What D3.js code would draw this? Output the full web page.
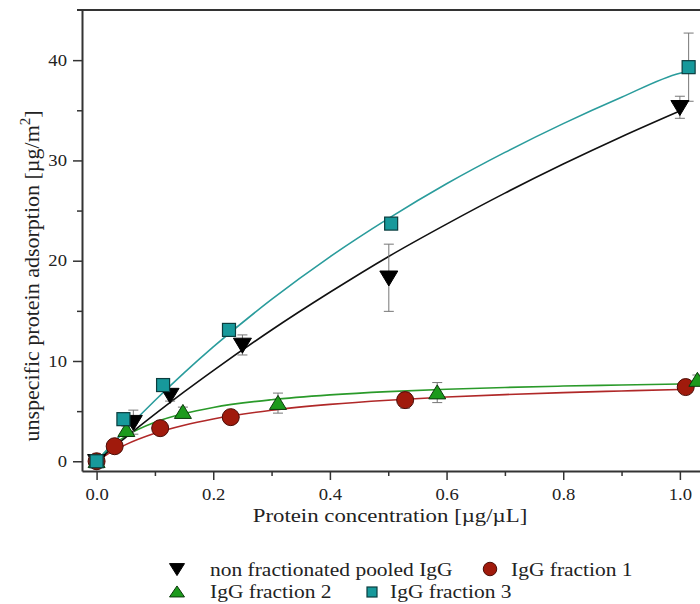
<!DOCTYPE html>
<html>
<head>
<meta charset="utf-8">
<script src="https://cdn.jsdelivr.net/npm/d3@7"></script>
<style>
  body { margin: 0; background: #fff; }
  svg { display: block; }
  svg text { font-family: "Liberation Serif", "Times New Roman", Times, "DejaVu Serif", serif !important; fill: #222; }
</style>
</head>
<body>
<svg id="chart" width="700" height="604"></svg>
<script>
// Measured adsorption (x: protein concentration µg/µL, y: µg/m², e: error)
const pooledX = [0, 0.063, 0.126, 0.25, 0.501, 1.0];
const pooledY = [0, 3.9, 6.6, 11.6, 18.3, 35.3];
const pooledE = [0, 1.2, 0.6, 1.0, 3.35, 1.1];

const frac1X = [0, 0.031, 0.109, 0.23, 0.529, 1.01];
const frac1Y = [0, 1.5, 3.3, 4.4, 6.1, 7.4];
const frac1E = [0, 0.3, 0.3, 0.3, 0.8, 0.4];

const frac2X = [0, 0.051, 0.148, 0.311, 0.584, 1.03];
const frac2Y = [0, 3.1, 4.9, 5.8, 6.85, 8.1];
const frac2E = [0, 0.4, 0.5, 1.0, 1.0, 0.5];

const frac3X = [0, 0.046, 0.114, 0.227, 0.505, 1.015];
const frac3Y = [0, 4.2, 7.6, 13.1, 23.7, 39.3];
const frac3E = [0, 0.4, 0.4, 0.5, 0.4, 3.4];

// Fitted adsorption curves
const fitX = [0, 0.025, 0.05, 0.1, 0.15, 0.2, 0.3, 0.4, 0.5, 0.6, 0.7, 0.8, 0.9, 1.0];
const fitPooled = [0, 1.21, 2.39, 4.69, 6.91, 9.04, 13.09, 16.85, 20.4, 23.65, 26.74, 29.64, 32.37, 34.94];
const fitFrac1 = [0, 0.92, 1.66, 2.79, 3.6, 4.22, 5.09, 5.67, 6.09, 6.41, 6.65, 6.85, 7.01, 7.15];
const fitFrac2 = [0, 1.47, 2.51, 3.89, 4.76, 5.37, 6.14, 6.62, 6.95, 7.18, 7.36, 7.5, 7.61, 7.70];
const fitFrac3 = [0, 1.59, 3.13, 6.06, 8.81, 11.4, 16.14, 20.39, 24.2, 27.67, 30.8, 33.67, 36.3, 38.7];
// curve end points beyond x = 1.0
const fitEndX = [1.0, 1.01, 1.06, 1.015];
const fitEndY = [34.94, 7.16, 7.74, 38.9];

const xTicks = [0, 0.2, 0.4, 0.6, 0.8, 1.0];
const xMinor = [0.1, 0.3, 0.5, 0.7, 0.9];
const yTicks = [0, 10, 20, 30, 40];
const yMinor = [5, 15, 25, 35];

const seriesNames = ["non fractionated pooled IgG", "IgG fraction 1", "IgG fraction 2", "IgG fraction 3"];

const serif = "'Liberation Serif', 'Times New Roman', Times, serif";
const stretch = 1.13; // horizontal glyph stretch of the horizontal texts
const svg = d3.select("#chart");
const plotL = 82, plotT = 10, plotB = 471;

const x = d3.scaleLinear().domain([-0.025, 1.05]).range([plotL, plotL + (1.05 + 0.025) * 583.3]);
const y = d3.scaleLinear().domain([-0.97, 45]).range([plotB, plotT]);

const axisColor = "#333";

// frame top line
svg.append("line").attr("x1", plotL - 5).attr("x2", 700).attr("y1", plotT).attr("y2", plotT)
  .attr("stroke", axisColor).attr("stroke-width", 2);

// y axis
svg.append("g").attr("class", "yaxis").attr("transform", `translate(${plotL},0)`)
  .call(d3.axisLeft(y).tickValues(yTicks).tickSize(9).tickSizeOuter(0).tickPadding(4.3).tickFormat(d3.format("d")));
svg.append("g").attr("transform", `translate(${plotL},0)`)
  .call(d3.axisLeft(y).tickValues(yMinor).tickSize(5).tickSizeOuter(0).tickFormat(""))
  .select(".domain").remove();

// x axis
svg.append("g").attr("class", "xaxis").attr("transform", `translate(0,${plotB})`)
  .call(d3.axisBottom(x).tickValues(xTicks).tickSize(9).tickSizeOuter(0).tickPadding(8).tickFormat(d3.format(".1f")));
svg.append("g").attr("transform", `translate(0,${plotB})`)
  .call(d3.axisBottom(x).tickValues(xMinor).tickSize(5).tickSizeOuter(0).tickFormat(""))
  .select(".domain").remove();

svg.selectAll("g").attr("font-family", serif);
svg.selectAll(".tick text").style("font-size", "16.5px").style("font-family", serif)
  .attr("fill", "#222").attr("transform", `scale(${stretch},1)`);
svg.selectAll(".domain").attr("stroke", axisColor).attr("stroke-width", 2);
svg.selectAll(".tick line").attr("stroke", axisColor).attr("stroke-width", 1.5);

// axis titles
svg.append("text").attr("transform", `translate(390,522) scale(${stretch + 0.04},1)`).attr("text-anchor", "middle")
  .style("font-family", serif).style("font-size", "19.5px").text("Protein concentration [µg/µL]");
const yt = svg.append("text").attr("transform", "translate(39,276) rotate(-90)")
  .attr("text-anchor", "middle").style("font-family", serif).style("font-size", "22px");
yt.append("tspan").text("unspecific protein adsorption [µg/m");
yt.append("tspan").attr("dy", -9).style("font-size", "15px").text("2");
yt.append("tspan").attr("dy", 9).text("]");

// fitted curves
const line = d3.line().x(d => x(d[0])).y(d => y(d[1])).curve(d3.curveMonotoneX);
const fits = [
  { ys: fitFrac1, color: "#b02828", end: 1 },
  { ys: fitFrac2, color: "#2a9a2a", end: 2 },
  { ys: fitPooled, color: "#111", end: 0 },
  { ys: fitFrac3, color: "#2a9c9c", end: 3 }
];
fits.forEach(f => {
  const pts = fitX.map((v, i) => [v, f.ys[i]]);
  if (fitEndX[f.end] > 1.0) pts.push([fitEndX[f.end], fitEndY[f.end]]);
  svg.append("path").datum(pts).attr("d", line)
    .attr("fill", "none").attr("stroke", f.color).attr("stroke-width", 1.6);
});

// error bars
const series = [
  { xs: pooledX, ys: pooledY, es: pooledE, shape: "down", fill: "#000", stroke: "#000" },
  { xs: frac1X, ys: frac1Y, es: frac1E, shape: "circle", fill: "#a01a0c", stroke: "#4a0c06" },
  { xs: frac2X, ys: frac2Y, es: frac2E, shape: "up", fill: "#1c9a1c", stroke: "#0c3a0c" },
  { xs: frac3X, ys: frac3Y, es: frac3E, shape: "square", fill: "#17999b", stroke: "#0b3d3e" }
];
series.forEach(s => {
  const g = svg.append("g");
  s.xs.forEach((xv, i) => {
    const e = s.es[i];
    if (!e) return;
    const cx = x(xv), y1 = y(s.ys[i] + e), y2 = y(s.ys[i] - e);
    g.append("line").attr("x1", cx).attr("x2", cx).attr("y1", y1).attr("y2", y2).attr("stroke", "#777").attr("stroke-width", 1);
    [y1, y2].forEach(yy => g.append("line").attr("x1", cx - 5).attr("x2", cx + 5).attr("y1", yy).attr("y2", yy)
      .attr("stroke", "#777").attr("stroke-width", 1));
  });
});

// marker shapes: w = width, h = height
function marker(g, shape, cx, cy, w, h, fill, stroke) {
  if (shape === "circle") {
    g.append("circle").attr("cx", cx).attr("cy", cy).attr("r", w / 2)
      .attr("fill", fill).attr("stroke", stroke).attr("stroke-width", 1);
  } else if (shape === "square") {
    g.append("rect").attr("x", cx - w / 2).attr("y", cy - w / 2).attr("width", w).attr("height", w)
      .attr("fill", fill).attr("stroke", stroke).attr("stroke-width", 1.2);
  } else {
    const dir = shape === "down" ? 1 : -1;
    const base = cy - dir * h * 0.45, tip = cy + dir * h * 0.55;
    g.append("path").attr("d", `M${cx - w / 2},${base}L${cx + w / 2},${base}L${cx},${tip}Z`)
      .attr("fill", fill).attr("stroke", stroke).attr("stroke-width", 1);
  }
}

const markSize = { down: [18, 15], up: [17, 14], circle: [17, 17], square: [13, 13] };
series.forEach(s => {
  const g = svg.append("g");
  const [w, h] = markSize[s.shape];
  s.xs.forEach((xv, i) => marker(g, s.shape, x(xv), y(s.ys[i]), w, h, s.fill, s.stroke));
});

// legend
const legendSize = { down: [15, 12], up: [15, 11], circle: [13.5, 13.5], square: [10, 10] };
const legend = [
  { i: 0, mx: 177, my: 569, tx: 210, ty: 576 },
  { i: 1, mx: 490, my: 569, tx: 511, ty: 576 },
  { i: 2, mx: 177, my: 592, tx: 210, ty: 598 },
  { i: 3, mx: 372, my: 592, tx: 390, ty: 598 }
];
legend.forEach(l => {
  const s = series[l.i];
  const g = svg.append("g");
  const [w, h] = legendSize[s.shape];
  marker(g, s.shape, l.mx, l.my, w, h, s.fill, s.stroke);
  g.append("text").attr("transform", `translate(${l.tx},${l.ty}) scale(${stretch},1)`)
    .style("font-family", serif).style("font-size", "19px").text(seriesNames[l.i]);
});
</script>
</body>
</html>
